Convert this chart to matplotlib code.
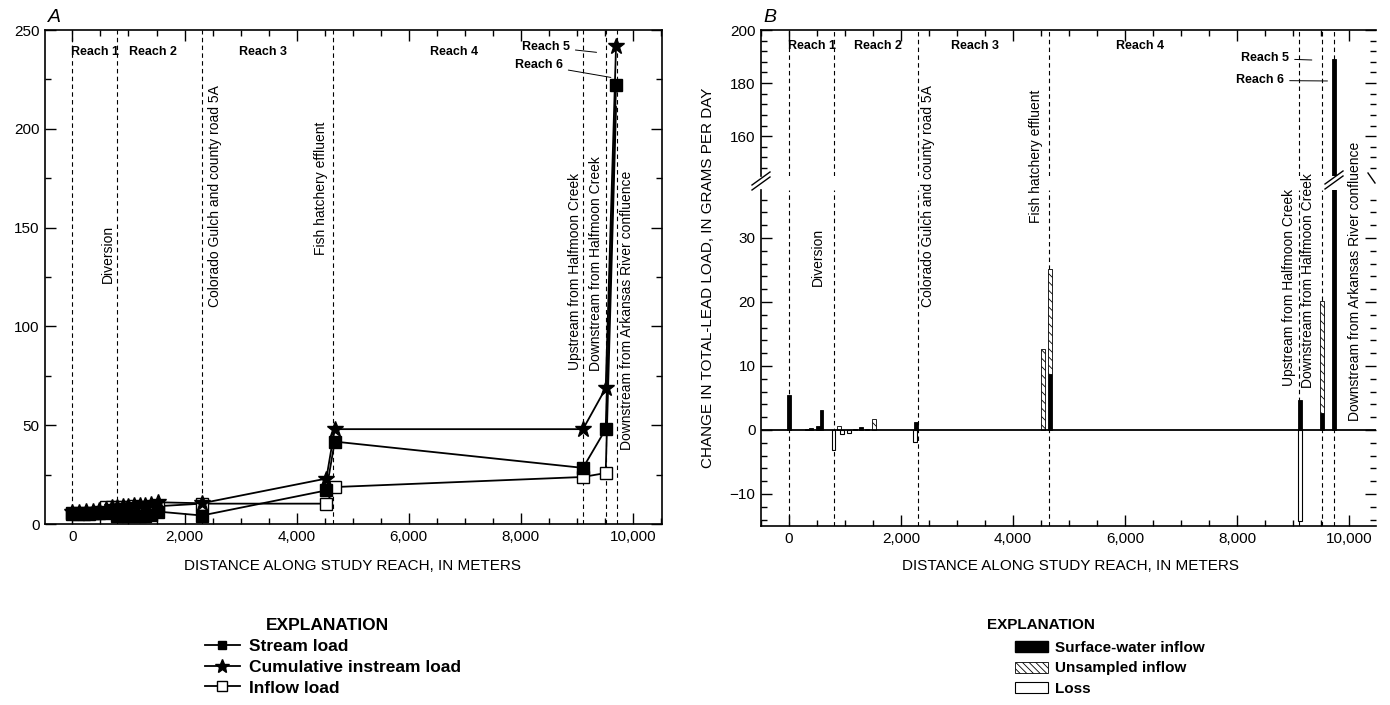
import numpy as np
import matplotlib
matplotlib.use("Agg")
import matplotlib.pyplot as plt
from matplotlib.lines import Line2D
from matplotlib.patches import Patch
from matplotlib.ticker import MultipleLocator

plt.rcParams['font.family'] = ['Liberation Sans', 'DejaVu Sans']
plt.rcParams['hatch.linewidth'] = 0.6

# ---------------------------------------------------------------------------
# Data (distance in meters, loads in grams per day)
# ---------------------------------------------------------------------------
stream_x = [0, 120, 240, 360, 480, 600, 700, 800, 900, 1000, 1100, 1200,
            1300, 1400, 1520, 2310, 4530, 4680, 9110, 9515, 9700]
stream_load = [5.5, 5.4, 5.6, 5.5, 5.8, 5.8, 6.0, 4.0, 4.2, 3.8, 3.9, 4.0,
               4.3, 4.5, 6.3, 4.3, 17.0, 41.7, 28.4, 48.0, 222.0]
cum_load = [6.0, 6.2, 6.4, 6.6, 6.9, 7.5, 8.5, 8.8, 9.0, 9.2, 9.4, 9.6,
            9.8, 10.0, 11.0, 10.5, 23.0, 48.0, 48.0, 68.7, 242.0]
inflow_x = [0, 100, 200, 300, 400, 500, 600, 700, 800, 900, 1000, 1100,
            1200, 1300, 1400, 1520, 2310, 4530, 4680, 9110, 9515, 9700]
inflow_load = [5.0, 5.2, 5.0, 5.3, 5.5, 6.0, 8.5, 8.8, 8.6, 8.7, 8.8, 8.9,
               8.7, 8.8, 8.9, 9.0, 10.3, 10.3, 18.7, 23.8, 25.8, 211.0]

# panel B: change in total-lead load
sw_x = [0, 320, 390, 520, 580, 1180, 1280, 1390, 2270, 4666, 9118, 9518, 9730]
sw_val = [5.5, 0.1, 0.26, 0.7, 3.1, 0.1, 0.4, 0.2, 1.3, 8.7, 4.7, 2.6, 189.0]
uns_x = [890, 1520, 4532, 4666, 9518]
uns_val = [0.7, 1.7, 12.6, 16.4, 17.5]
uns_base = [0, 0, 0, 8.7, 2.6]
loss_x = [795, 945, 1070, 2250, 9118]
loss_val = [-3.2, -0.7, -0.5, -1.9, -14.2]

site_x = [0, 795, 2310, 4645, 9112, 9517, 9725]
site_names = ["Diversion", "Colorado Gulch and county road 5A",
              "Fish hatchery effluent", "Upstream from Halfmoon Creek",
              "Downstream from Halfmoon Creek",
              "Downstream from Arkansas River confluence"]
reach_names = ["Reach 1", "Reach 2", "Reach 3", "Reach 4"]

x_ticks = [0, 2000, 4000, 6000, 8000, 10000]
x_ticklabels = ["0", "2,000", "4,000", "6,000", "8,000", "10,000"]
a_yticks = [0, 50, 100, 150, 200, 250]
b_low_yticks = [-10, 0, 10, 20, 30]
b_low_labels = ["\u221210", "0", "10", "20", "30"]
b_top_yticks = [160, 180, 200]

# ---------------------------------------------------------------------------
W, H = 1390, 705
fig = plt.figure(figsize=(W / 100, H / 100), dpi=100)


def fx(px):
    return px / W


def fy(py):
    return 1 - py / H


def box(l, t, r, b):
    return [fx(l), fy(b), (r - l) / W, (b - t) / H]


axA = fig.add_axes(box(45, 30, 662, 524))
axBt = fig.add_axes(box(761, 30, 1376, 176))
axBb = fig.add_axes(box(761, 190, 1376, 526))

dash = (0, (4, 3))
reach_font = dict(family=['Liberation Sans Narrow', 'Liberation Sans'],
                  weight='bold', size=9)
site_font = dict(size=10, rotation=90, va='center')

# ---------------------------------------------------------------------------
# Panel A
# ---------------------------------------------------------------------------
for x in site_x:
    axA.axvline(x, color='k', lw=0.8, ls=dash, zorder=1)

axA.plot(inflow_x, inflow_load, color='k', lw=1.3, marker='s', ms=8,
         mfc='white', mec='k', mew=1.0,
         markevery=list(range(len(inflow_x) - 1)), zorder=3)
axA.plot(stream_x, stream_load, color='k', lw=1.3, marker='s', ms=8, zorder=4)
axA.plot(stream_x, cum_load, color='k', lw=1.3, marker='*', ms=12, zorder=5)

axA.set_xlim(-490, 10520)
axA.set_ylim(0, 250)
axA.set_xticks(x_ticks)
axA.set_xticklabels(x_ticklabels)
axA.set_yticks(a_yticks)
axA.xaxis.set_minor_locator(MultipleLocator(500))
axA.yaxis.set_minor_locator(MultipleLocator(25))
axA.tick_params(which='both', direction='in', top=True, right=True,
                labelsize=11, width=1)
axA.tick_params(which='major', length=8, pad=4)
axA.tick_params(which='minor', length=4)
for s in axA.spines.values():
    s.set_linewidth(1.2)

for name, x in zip(reach_names, [407, 1434, 3400, 6810]):
    axA.text(x, 239, name, ha='center', va='center', **reach_font)
axA.annotate("Reach 5", xy=(9352, 238.7), xytext=(8876, 241.5),
             ha='right', va='center',
             arrowprops=dict(arrowstyle='-', lw=0.7, shrinkA=2, shrinkB=0),
             **reach_font)
axA.annotate("Reach 6", xy=(9607, 226.0), xytext=(8750, 232.3),
             ha='right', va='center',
             arrowprops=dict(arrowstyle='-', lw=0.7, shrinkA=2, shrinkB=0),
             **reach_font)

a_label_pos = [(755, 'right', 136.7), (2420, 'left', 166), (4556, 'right', 170),
               (9085, 'right', 128), (9460, 'right', 132), (9765, 'left', 108)]
for name, (x, ha, y) in zip(site_names, a_label_pos):
    axA.text(x, y, name, ha=ha, **site_font)

fig.text(fx(48), fy(17), "A", style='italic', fontsize=14, va='center')
fig.text(fx(352), fy(566), "DISTANCE ALONG STUDY REACH, IN METERS",
         ha='center', va='center', fontsize=11)

# ---------------------------------------------------------------------------
# Panel B (broken axis)
# ---------------------------------------------------------------------------
for ax in (axBt, axBb):
    for x in site_x:
        ax.axvline(x, color='k', lw=0.8, ls=dash, zorder=1)
    ax.bar(sw_x, sw_val, width=70, color='k', edgecolor='k', lw=0.6, zorder=3)
    ax.bar(uns_x, uns_val, bottom=uns_base, width=70, color='white',
           edgecolor='k', hatch='\\\\\\\\', lw=0.6, zorder=3)
    ax.bar(loss_x, loss_val, width=70, color='white', edgecolor='k',
           lw=0.8, zorder=3)
    ax.set_xlim(-500, 10480)
    ax.set_xticks(x_ticks)
    ax.xaxis.set_minor_locator(MultipleLocator(500))
    ax.spines['right'].set_visible(False)
    for s in ax.spines.values():
        s.set_linewidth(1.2)
    ax.tick_params(which='both', direction='in', right=True, labelsize=11,
                   width=1)
    ax.tick_params(which='major', length=8, pad=4)
    ax.tick_params(which='minor', length=4)

axBb.axhline(0, color='k', lw=1.3, zorder=4)
axBb.set_ylim(-15, 37.5)
axBb.set_yticks(b_low_yticks)
axBb.set_yticklabels(b_low_labels)
axBb.yaxis.set_minor_locator(MultipleLocator(2))
axBb.set_xticklabels(x_ticklabels)
axBb.spines['top'].set_visible(False)
axBb.tick_params(which='both', top=False)

axBt.set_ylim(145, 200)
axBt.set_yticks(b_top_yticks)
axBt.yaxis.set_minor_locator(MultipleLocator(4))
axBt.spines['bottom'].set_visible(False)
axBt.tick_params(which='both', top=True, bottom=False, labelbottom=False)

for name, x in zip(reach_names, [410, 1590, 3320, 6270]):
    axBt.text(x, 194, name, ha='center', va='center', **reach_font)
axBt.annotate("Reach 5", xy=(9334, 188.7), xytext=(8929, 189.3),
              ha='right', va='center',
              arrowprops=dict(arrowstyle='-', lw=0.7, shrinkA=2, shrinkB=0),
              **reach_font)
axBt.annotate("Reach 6", xy=(9613, 180.8), xytext=(8840, 181.0),
              ha='right', va='center',
              arrowprops=dict(arrowstyle='-', lw=0.7, shrinkA=2, shrinkB=0),
              **reach_font)

b_label_pos = [(640, 'right', 27.0), (2350, 'left', 36.6), (4536, 'right', 42.7),
               (9054, 'right', 22.2), (9393, 'right', 23.4), (9980, 'left', 23.2)]
for name, (x, ha, y) in zip(site_names, b_label_pos):
    axBb.text(x, y, name, ha=ha, **site_font)

# break marks
for (x0, y0, x1, y1) in [(752, 185, 770, 172), (752, 190, 770, 177),
                         (1325, 184, 1343, 171), (1325, 189, 1343, 176),
                         (1368, 173, 1375, 183)]:
    fig.add_artist(Line2D([fx(x0), fx(x1)], [fy(y0), fy(y1)], color='k', lw=1.0))

fig.text(fx(708), fy(278), "CHANGE IN TOTAL-LEAD LOAD, IN GRAMS PER DAY",
         rotation=90, ha='center', va='center', fontsize=11)
fig.text(fx(763), fy(17), "B", style='italic', fontsize=14, va='center')
fig.text(fx(1070), fy(566), "DISTANCE ALONG STUDY REACH, IN METERS",
         ha='center', va='center', fontsize=11)

# ---------------------------------------------------------------------------
# Legends
# ---------------------------------------------------------------------------
leg_a_font = dict(weight='bold', size=12.5)
handles_a = [
    Line2D([], [], color='k', lw=1.3, marker='s', ms=6),
    Line2D([], [], color='k', lw=1.3, marker='*', ms=10),
    Line2D([], [], color='k', lw=1.3, marker='s', ms=7, mfc='white', mec='k'),
]
fig.text(fx(327), fy(625), "EXPLANATION", ha='center', va='center', **leg_a_font)
fig.legend(handles_a, ["Stream load", "Cumulative instream load", "Inflow load"],
           loc='upper left', bbox_to_anchor=(fx(205), fy(639)), frameon=False,
           prop=leg_a_font, handlelength=2.0, labelspacing=0.32,
           handletextpad=0.55, borderaxespad=0, borderpad=0)

leg_b_font = dict(weight='bold', size=11)
handles_b = [
    Patch(facecolor='k', edgecolor='k'),
    Patch(facecolor='white', edgecolor='k', hatch='\\\\\\\\\\', lw=0.6),
    Patch(facecolor='white', edgecolor='k', lw=0.8),
]
fig.text(fx(1041), fy(625), "EXPLANATION", ha='center', va='center', **leg_b_font)
fig.legend(handles_b, ["Surface-water inflow", "Unsampled inflow", "Loss"],
           loc='upper left', bbox_to_anchor=(fx(1015), fy(641)), frameon=False,
           prop=leg_b_font, handlelength=2.15, handleheight=0.72,
           labelspacing=0.42, handletextpad=0.45, borderaxespad=0, borderpad=0)

fig.savefig("out.png", dpi=100)
